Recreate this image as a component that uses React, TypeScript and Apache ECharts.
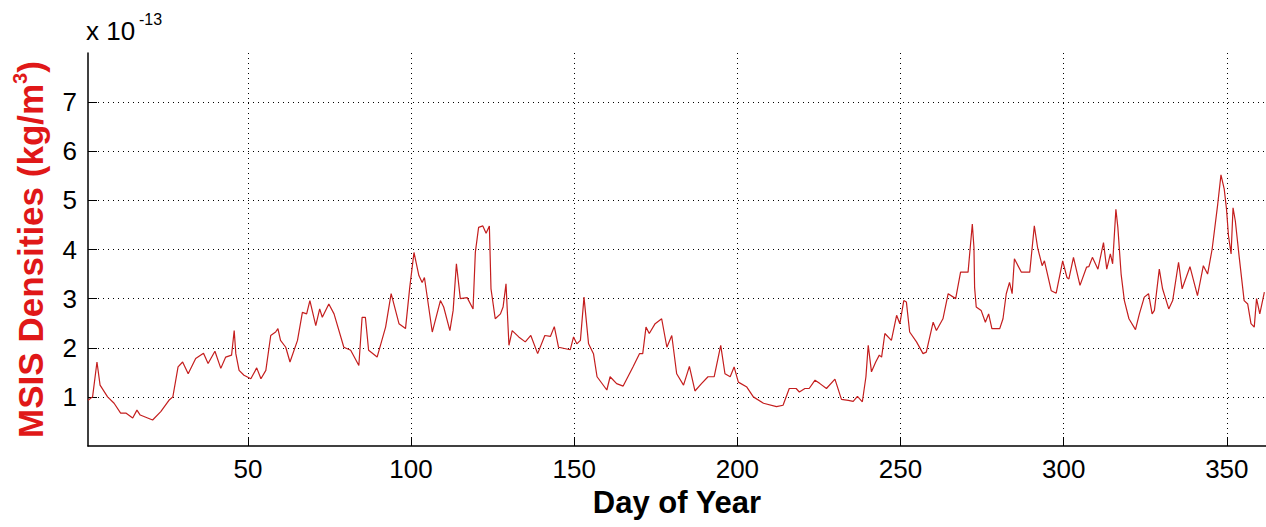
import React, { useEffect, useRef } from "react";
import * as echarts from "echarts";

const days: number[] = [
  1, 2.4, 3.75, 4.7, 7, 9, 11, 12.6, 14.7, 16, 17, 20.8, 23.3, 25.8, 27, 28.6, 30, 31.7, 34, 36.4,
  37.8, 39.9, 41.7, 43.2, 45, 45.8, 46.3, 47.3, 48.8, 50.9, 52.7, 54, 55.5, 57, 58.5, 59.2, 60, 61.6,
  62.9, 65.2, 66.7, 68, 69, 70.8, 72, 72.8, 74.8, 76.4, 79.4, 81.5, 84, 85, 86, 87, 89.6, 92.2, 93.9,
  96.3, 98.3, 99.6, 100.9, 102.4, 103.4, 104.1, 106.5, 109, 110, 111.9, 112.9, 113.9, 115.1, 117.2,
  119, 119.7, 120.7, 122, 123, 124, 124.5, 125.8, 127.4, 128.2, 129.1, 130, 131, 133, 135, 136.7,
  138.8, 141, 142.7, 143.9, 145.2, 148.8, 149.8, 150.8, 151.9, 153, 154.4, 155.9, 157, 160, 161, 163,
  165, 168, 170, 171, 172, 173, 174.8, 176.8, 178.4, 179.9, 181.4, 183.5, 185.3, 187, 189, 191,
  192.9, 194.9, 196.2, 197.8, 199, 200.3, 202.9, 204.9, 208, 212, 214, 215.9, 218, 219, 220.7, 222,
  223.8, 225.3, 227.3, 229.9, 231.9, 234, 235.5, 236.8, 238.3, 239.4, 240.1, 241.1, 242.4, 243.5,
  244.2, 245.2, 247.2, 248.8, 249.8, 251, 251.8, 252.8, 254.9, 256.9, 257.9, 260, 261, 263, 264.6,
  266.9, 268.4, 270.7, 272, 272.5, 272.7, 273.2, 274.7, 276, 277, 278, 280.4, 281.4, 282.4, 283.4,
  284.2, 284.9, 287, 289.6, 291, 292, 293.4, 294.1, 296.2, 297.7, 299.7, 301, 301.6, 303, 305, 307,
  307.7, 308.8, 310.5, 312.2, 313.2, 314.3, 315, 316, 316.6, 317.6, 318.6, 320, 322, 323.2, 324.7,
  326, 327.1, 327.8, 329.3, 330.3, 332.2, 333.4, 335.2, 336.3, 338.7, 341, 342.8, 344.1, 345.5,
  347.2, 348.2, 349.2, 349.9, 350.5, 351.3, 351.9, 352.6, 353.8, 355.3, 356.4, 357.4, 358.4, 359.1,
  360.1, 361.5,
];

const densities: number[] = [
  0.93, 1.0, 1.71, 1.24, 1.0, 0.87, 0.67, 0.67, 0.57, 0.73, 0.63, 0.53, 0.7, 0.93, 1.0, 1.61, 1.71,
  1.47, 1.78, 1.89, 1.68, 1.93, 1.58, 1.81, 1.85, 2.35, 1.88, 1.54, 1.44, 1.37, 1.59, 1.37, 1.54,
  2.25, 2.32, 2.39, 2.15, 2.01, 1.71, 2.15, 2.72, 2.69, 2.96, 2.45, 2.79, 2.62, 2.89, 2.69, 2.01,
  1.95, 1.64, 2.62, 2.62, 1.95, 1.81, 2.42, 3.1, 2.49, 2.39, 3.23, 3.94, 3.47, 3.33, 3.43, 2.32,
  2.96, 2.83, 2.35, 2.76, 3.71, 3.0, 3.02, 2.79, 3.94, 4.45, 4.48, 4.33, 4.48, 3.2, 2.59, 2.69, 2.83,
  3.3, 2.05, 2.35, 2.22, 2.12, 2.25, 1.88, 2.25, 2.23, 2.43, 2.01, 1.96, 2.22, 2.08, 2.15, 3.03,
  2.08, 1.88, 1.41, 1.14, 1.41, 1.27, 1.22, 1.61, 1.88, 1.88, 2.42, 2.29, 2.49, 2.59, 2.01, 2.25,
  1.47, 1.24, 1.62, 1.12, 1.27, 1.41, 1.41, 2.05, 1.47, 1.41, 1.61, 1.3, 1.2, 1.0, 0.87, 0.8, 0.83,
  1.17, 1.17, 1.1, 1.17, 1.17, 1.34, 1.27, 1.17, 1.36, 0.95, 0.93, 0.91, 1.01, 0.9, 1.41, 2.05, 1.51,
  1.71, 1.85, 1.81, 2.29, 2.15, 2.66, 2.49, 2.96, 2.93, 2.32, 2.12, 1.88, 1.91, 2.52, 2.35, 2.59,
  3.1, 3.0, 3.54, 3.54, 4.52, 4.04, 3.23, 2.83, 2.76, 2.52, 2.69, 2.39, 2.39, 2.59, 3.1, 3.33, 3.1,
  3.81, 3.54, 3.54, 4.48, 4.04, 3.67, 3.77, 3.16, 3.11, 3.77, 3.43, 3.4, 3.84, 3.27, 3.64, 3.65,
  3.84, 3.6, 4.14, 3.6, 3.91, 3.71, 4.82, 4.45, 3.5, 2.96, 2.59, 2.37, 2.69, 3.03, 3.1, 2.69, 2.76,
  3.6, 3.2, 2.79, 2.96, 3.74, 3.2, 3.65, 3.06, 3.67, 3.5, 4.01, 4.92, 5.52, 5.23, 4.82, 4.28, 3.91,
  4.85, 4.58, 3.84, 2.96, 2.89, 2.49, 2.42, 3.0, 2.69, 3.13,
];

const xMin = 1;
const xMax = 362;
const yMin = 0;
const yMax = 8;
const yInterval = 1;
const xName = "Day of Year";
const yNameMain = "MSIS Densities (kg/m";
const yNameSup = "3";
const scaleBase = "x 10";
const scaleExp = "-13";

const FONT = "Arial, 'Liberation Sans', Helvetica, sans-serif";
const RED = "#e01818";

export default function App() {
  const ref = useRef<HTMLDivElement>(null);
  useEffect(() => {
    if (!ref.current) return;
    const chart = echarts.init(ref.current, undefined, { renderer: "svg" });
    const data = days.map((d, i) => [d, densities[i]]);
    const dotted = { color: "#000", width: 1, type: [1, 4] as number[] };
    chart.setOption({
      animation: false,
      backgroundColor: "#fff",
      grid: { left: 88, right: 0, top: 53, bottom: 81, containLabel: false },
      xAxis: {
        type: "value",
        min: xMin,
        max: xMax,
        splitNumber: 7,
        name: xName,
        nameLocation: "middle",
        nameGap: 41,
        nameTextStyle: { fontFamily: FONT, fontSize: 31, fontWeight: "bold", color: "#000" },
        axisLine: { show: true, onZero: false, lineStyle: { color: "#000", width: 1.5 } },
        axisTick: { show: true, inside: true, length: 9, lineStyle: { color: "#000", width: 1 } },
        axisLabel: {
          fontFamily: FONT,
          fontSize: 26,
          color: "#000",
          margin: 10,
          showMinLabel: false,
          showMaxLabel: false,
        },
        splitLine: { show: true, showMinLine: false, showMaxLine: false, lineStyle: dotted },
      },
      yAxis: {
        type: "value",
        min: yMin,
        max: yMax,
        interval: yInterval,
        name: `{m|${yNameMain}}{s|${yNameSup}}{m|)}`,
        nameLocation: "middle",
        nameRotate: 90,
        nameGap: 40,
        nameTextStyle: {
          color: RED,
          fontFamily: FONT,
          fontWeight: "bold",
          fontSize: 35,
          rich: {
            m: { color: RED, fontFamily: FONT, fontWeight: "bold", fontSize: 35, lineHeight: 38, verticalAlign: "bottom" },
            s: { color: RED, fontFamily: FONT, fontWeight: "bold", fontSize: 20, lineHeight: 38, verticalAlign: "top" },
          },
        },
        axisLine: { show: true, lineStyle: { color: "#000", width: 1.5 } },
        axisTick: { show: true, inside: true, length: 9, lineStyle: { color: "#000", width: 1 } },
        axisLabel: {
          fontFamily: FONT,
          fontSize: 26,
          color: "#000",
          margin: 11,
          showMinLabel: false,
          showMaxLabel: false,
        },
        splitLine: { show: true, showMinLine: false, showMaxLine: false, lineStyle: dotted },
      },
      graphic: [
        {
          type: "text",
          left: 86,
          top: 18,
          style: { text: scaleBase, fontFamily: FONT, fontSize: 26, fill: "#000" },
        },
        {
          type: "text",
          left: 139,
          top: 11,
          style: { text: scaleExp, fontFamily: FONT, fontSize: 16, fill: "#000" },
        },
      ],
      series: [
        {
          type: "line",
          data,
          showSymbol: false,
          symbol: "none",
          clip: true,
          lineStyle: { color: "#c41e1e", width: 1.2 },
        },
      ],
    });
    return () => chart.dispose();
  }, []);
  return (
    <div
      ref={ref}
      style={{ position: "fixed", left: 0, top: 0, width: 1266, height: 527, background: "#fff" }}
    />
  );
}
